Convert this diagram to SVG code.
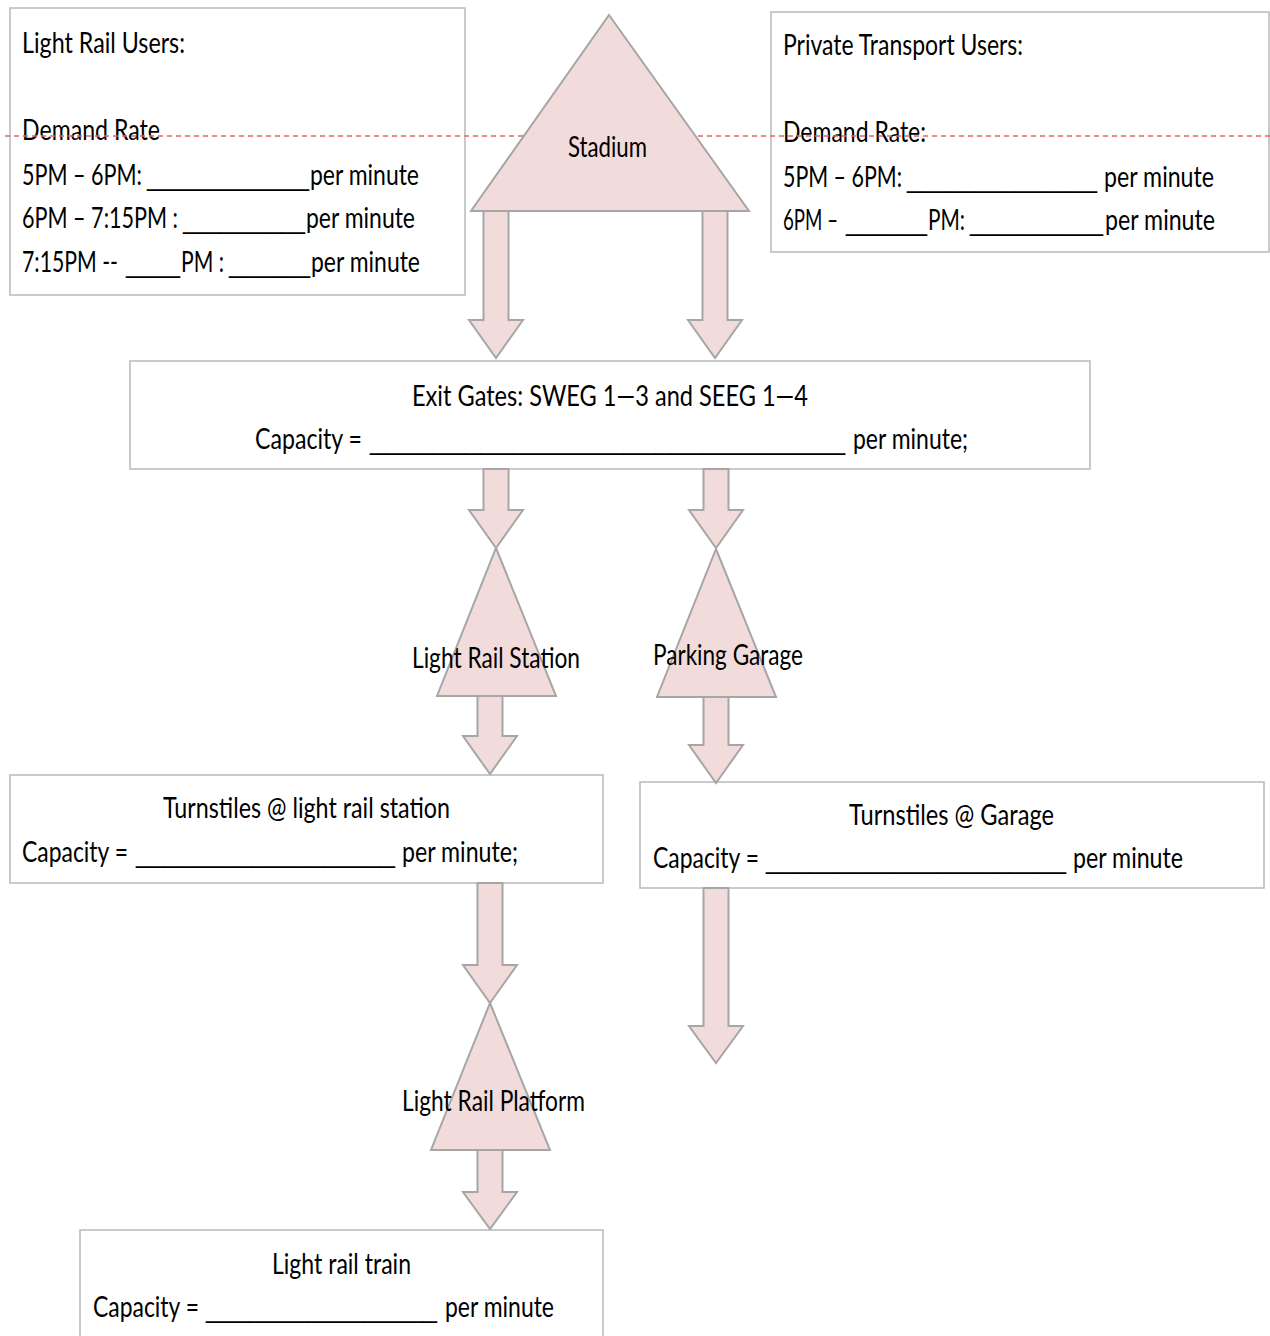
<svg xmlns="http://www.w3.org/2000/svg" width="1270" height="1336" viewBox="0 0 1270 1336">
<style>
  .box { fill: #ffffff; stroke: #bdbdbd; stroke-width: 1.6; }
  .tri { fill: #f2dcdb; stroke: #a6a6a6; stroke-width: 2; }
  .arr { fill: #f2dcdb; stroke: #a6a6a6; stroke-width: 2; stroke-linejoin: miter; }
  .dash { stroke: #e06666; stroke-width: 1.5; stroke-dasharray: 5 4; fill: none; }
  text { font-family: "Lato", "Open Sans", "Liberation Sans", sans-serif; font-size: 28px; fill: #000000; }
  .u { font-family: "Liberation Sans", "DejaVu Sans", sans-serif; }
</style>

<g id="light-rail-users">
  <rect class="box" x="10" y="8" width="455" height="287"/>
  <text><tspan x="22" y="53" textLength="163" lengthAdjust="spacingAndGlyphs">Light Rail Users:</tspan></text>
  <text><tspan x="22" y="140" textLength="138" lengthAdjust="spacingAndGlyphs">Demand Rate</tspan></text>
  <text><tspan x="22" y="185" textLength="120" lengthAdjust="spacingAndGlyphs">5PM – 6PM:</tspan><tspan class="u" x="147" y="185" textLength="162" lengthAdjust="spacingAndGlyphs">____________</tspan><tspan x="310" y="185" textLength="109" lengthAdjust="spacingAndGlyphs">per minute</tspan></text>
  <text><tspan x="22" y="228" textLength="156" lengthAdjust="spacingAndGlyphs">6PM – 7:15PM :</tspan><tspan class="u" x="183" y="228" textLength="122" lengthAdjust="spacingAndGlyphs">__________</tspan><tspan x="306" y="228" textLength="109" lengthAdjust="spacingAndGlyphs">per minute</tspan></text>
  <text><tspan x="22" y="272" textLength="96" lengthAdjust="spacingAndGlyphs">7:15PM --</tspan><tspan class="u" x="126" y="272" textLength="54" lengthAdjust="spacingAndGlyphs">_____</tspan><tspan x="181" y="272" textLength="43" lengthAdjust="spacingAndGlyphs">PM :</tspan><tspan class="u" x="229" y="272" textLength="81" lengthAdjust="spacingAndGlyphs">_______</tspan><tspan x="311" y="272" textLength="109" lengthAdjust="spacingAndGlyphs">per minute</tspan></text>
</g>

<g id="private-transport-users">
  <rect class="box" x="771" y="12" width="498" height="240"/>
  <text><tspan x="783" y="55" textLength="240" lengthAdjust="spacingAndGlyphs">Private Transport Users:</tspan></text>
  <text><tspan x="783" y="142" textLength="143" lengthAdjust="spacingAndGlyphs">Demand Rate:</tspan></text>
  <text><tspan x="783" y="187" textLength="119" lengthAdjust="spacingAndGlyphs">5PM – 6PM:</tspan><tspan class="u" x="907" y="187" textLength="190" lengthAdjust="spacingAndGlyphs">______________</tspan><tspan x="1104" y="187" textLength="110" lengthAdjust="spacingAndGlyphs">per minute</tspan></text>
  <text><tspan x="783" y="230" textLength="55" lengthAdjust="spacingAndGlyphs">6PM –</tspan><tspan class="u" x="846" y="230" textLength="81" lengthAdjust="spacingAndGlyphs">______</tspan><tspan x="928" y="230" textLength="37" lengthAdjust="spacingAndGlyphs">PM:</tspan><tspan class="u" x="970" y="230" textLength="133" lengthAdjust="spacingAndGlyphs">__________</tspan><tspan x="1105" y="230" textLength="110" lengthAdjust="spacingAndGlyphs">per minute</tspan></text>
</g>

<line class="dash" x1="5" y1="136" x2="1270" y2="136"/>

<g id="stadium">
  <polygon class="tri" points="609,15 749,211 471,211"/>
  <text><tspan x="568" y="157" textLength="79" lengthAdjust="spacingAndGlyphs">Stadium</tspan></text>
</g>

<g id="exit-gates">
  <rect class="box" x="130" y="361" width="960" height="108"/>
  <text><tspan x="412" y="406" textLength="396" lengthAdjust="spacingAndGlyphs">Exit Gates: SWEG 1—3 and SEEG 1—4</tspan></text>
  <text><tspan x="255" y="449" textLength="107" lengthAdjust="spacingAndGlyphs">Capacity =</tspan><tspan class="u" x="370" y="449" textLength="475" lengthAdjust="spacingAndGlyphs">______________________________</tspan><tspan x="853" y="449" textLength="115" lengthAdjust="spacingAndGlyphs">per minute;</tspan></text>
</g>

<g id="light-rail-station">
  <polygon class="tri" points="496,548 556,696 437,696"/>
  <text><tspan x="412" y="668" textLength="168" lengthAdjust="spacingAndGlyphs">Light Rail Station</tspan></text>
</g>

<g id="parking-garage">
  <polygon class="tri" points="716,549 776,697 657,697"/>
  <text><tspan x="653" y="665" textLength="150" lengthAdjust="spacingAndGlyphs">Parking Garage</tspan></text>
</g>

<g id="turnstiles-light-rail">
  <rect class="box" x="10" y="775" width="593" height="108"/>
  <text><tspan x="163" y="818" textLength="287" lengthAdjust="spacingAndGlyphs">Turnstiles @ light rail station</tspan></text>
  <text><tspan x="22" y="862" textLength="106" lengthAdjust="spacingAndGlyphs">Capacity =</tspan><tspan class="u" x="136" y="862" textLength="259" lengthAdjust="spacingAndGlyphs">__________________</tspan><tspan x="402" y="862" textLength="116" lengthAdjust="spacingAndGlyphs">per minute;</tspan></text>
</g>

<g id="turnstiles-garage">
  <rect class="box" x="640" y="782" width="624" height="106"/>
  <text><tspan x="849" y="825" textLength="205" lengthAdjust="spacingAndGlyphs">Turnstiles @ Garage</tspan></text>
  <text><tspan x="653" y="868" textLength="106" lengthAdjust="spacingAndGlyphs">Capacity =</tspan><tspan class="u" x="766" y="868" textLength="300" lengthAdjust="spacingAndGlyphs">_____________________</tspan><tspan x="1073" y="868" textLength="110" lengthAdjust="spacingAndGlyphs">per minute</tspan></text>
</g>

<g id="light-rail-platform">
  <polygon class="tri" points="490,1003 550,1150 431,1150"/>
  <text><tspan x="402" y="1111" textLength="183" lengthAdjust="spacingAndGlyphs">Light Rail Platform</tspan></text>
</g>

<g id="light-rail-train">
  <rect class="box" x="80" y="1230" width="523" height="112"/>
  <text><tspan x="272" y="1274" textLength="139" lengthAdjust="spacingAndGlyphs">Light rail train</tspan></text>
  <text><tspan x="93" y="1317" textLength="106" lengthAdjust="spacingAndGlyphs">Capacity =</tspan><tspan class="u" x="206" y="1317" textLength="231" lengthAdjust="spacingAndGlyphs">________________</tspan><tspan x="445" y="1317" textLength="109" lengthAdjust="spacingAndGlyphs">per minute</tspan></text>
</g>

<g id="connectors">
  <polygon class="arr" points="483.5,211 508.5,211 508.5,320 523,320 496,358 469,320 483.5,320"/>
  <polygon class="arr" points="702.5,211 727.5,211 727.5,320 742,320 715,358 688,320 702.5,320"/>
  <polygon class="arr" points="483.5,469 508.5,469 508.5,510 523,510 496,548 469,510 483.5,510"/>
  <polygon class="arr" points="703.5,469 728.5,469 728.5,510 743,510 716,548 689,510 703.5,510"/>
  <polygon class="arr" points="477.5,696 502.5,696 502.5,736 517,736 490,774 463,736 477.5,736"/>
  <polygon class="arr" points="703.5,697 728.5,697 728.5,745 743,745 716,783 689,745 703.5,745"/>
  <polygon class="arr" points="477.5,883 502.5,883 502.5,965 517,965 490,1003 463,965 477.5,965"/>
  <polygon class="arr" points="703.5,888 728.5,888 728.5,1026 743,1026 716,1063 689,1026 703.5,1026"/>
  <polygon class="arr" points="477.5,1150 502.5,1150 502.5,1192 517,1192 490,1229 463,1192 477.5,1192"/>
</g>
</svg>
